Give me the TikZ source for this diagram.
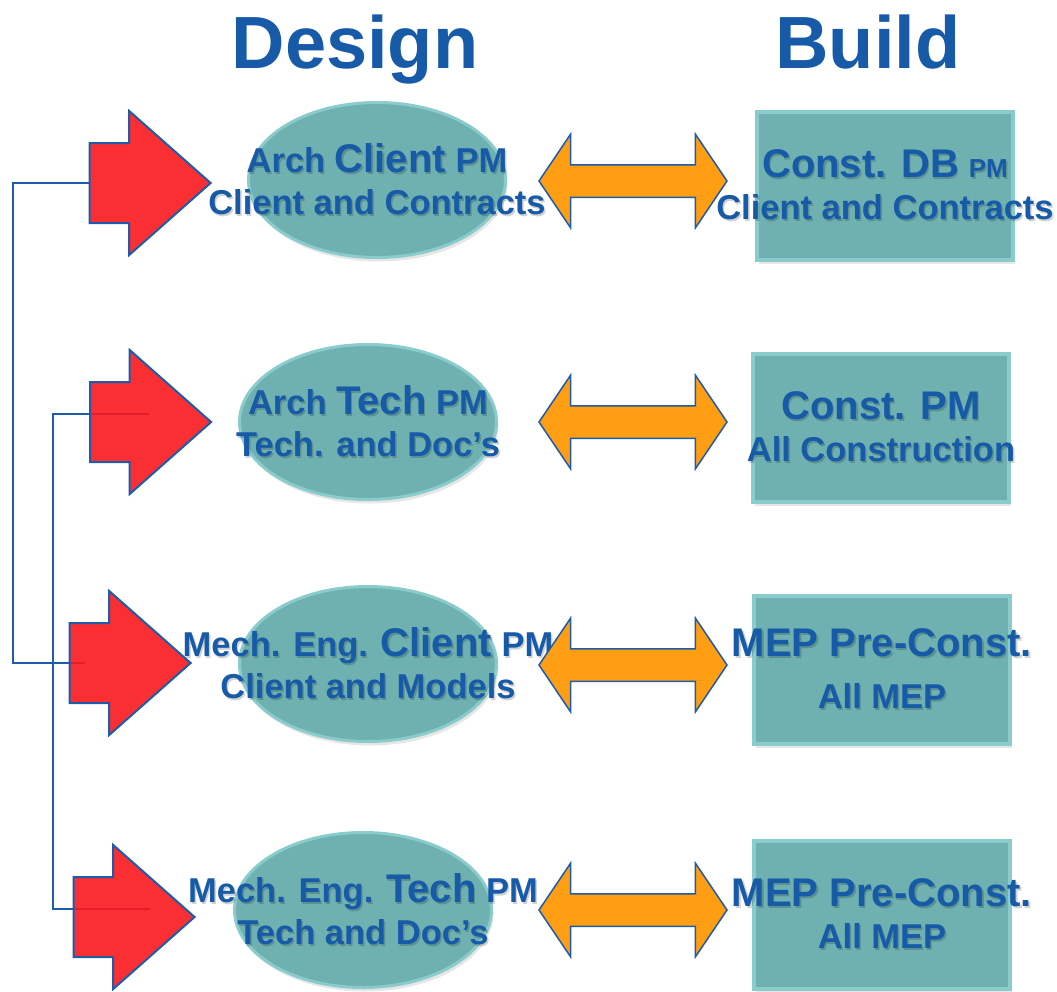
\documentclass[tikz,border=0pt]{standalone}
\usepackage{fontspec}
\setmainfont{Liberation Sans}
\usetikzlibrary{shapes.geometric,shapes.arrows,shadows}

\definecolor{pmblue}{RGB}{22,90,168}
\definecolor{pmline}{RGB}{28,92,170}
\definecolor{pmteal}{RGB}{111,177,176}
\definecolor{pmrim}{RGB}{138,204,204}
\definecolor{pmred}{RGB}{248,24,30}
\definecolor{pmorange}{RGB}{255,158,18}

\pgfdeclarelayer{background}
\pgfsetlayers{background,main}

\newcommand{\lrg}[1]{{\fontsize{40}{42}\selectfont #1}}
\newcommand{\sml}[1]{{\fontsize{26}{42}\selectfont #1}}
\newcommand{\shd}[1]{\leavevmode\rlap{\kern1.5pt\raisebox{-2pt}{\pgfsetfillopacity{0.18}\color{black}#1\pgfsetfillopacity{1}}}#1}

\begin{document}
\begin{tikzpicture}[x=1pt,y=-1pt]
\tikzstyle{title}=[text=pmblue,font=\bfseries\fontsize{74}{74}\selectfont,anchor=base,inner sep=0pt]
\tikzstyle{roletext}=[text=pmblue,font=\bfseries\fontsize{34.5}{42}\selectfont,align=center,inner sep=0pt]
\tikzstyle{design}=[ellipse,fill=pmteal,draw=pmrim,line width=3pt,minimum width=257pt,minimum height=155pt,inner sep=0pt,
                    drop shadow={opacity=0.2,shadow xshift=2pt,shadow yshift=-4pt}]
\tikzstyle{build}=[rectangle,fill=pmteal,draw=pmrim,line width=4pt,minimum width=256pt,minimum height=148pt,inner sep=0pt,
                   drop shadow={opacity=0.2,shadow xshift=2pt,shadow yshift=-4pt}]
\tikzstyle{push}=[single arrow,fill=pmred,fill opacity=0.9,draw=pmline,line width=2pt,inner xsep=0pt,inner ysep=39pt,
                  minimum height=121pt,single arrow head extend=32pt,single arrow tip angle=83]
\tikzstyle{link}=[double arrow,fill=pmorange,draw=pmline,line width=1.5pt,inner xsep=0pt,inner ysep=15.5pt,
                  minimum height=188pt,double arrow head extend=30.5pt,double arrow tip angle=112]
\tikzstyle{feed}=[draw=pmline,line width=2pt]

\useasboundingbox (0,0) rectangle (1057,991);

% headings
\node[title] (design) at (355,68) {Design};
\node[title] (build) at (868,68) {Build};

% design side
\node[design,label={[roletext]center:{\shd{Arch \lrg{Client} PM}\\\shd{Client and Contracts}}}] (e1) at (377,180) {};
\node[design,label={[roletext]center:{\shd{Arch \lrg{Tech} PM}\\\shd{Tech. and Doc’s}}}] (e2) at (368,422) {};
\node[design,label={[roletext]center:{\shd{Mech. Eng. \lrg{Client} PM}\\\shd{Client and Models}}}] (e3) at (368,664) {};
\node[design,label={[roletext]center:{\shd{Mech. Eng. \lrg{Tech} PM}\\\shd{Tech and Doc’s}}}] (e4) at (363,910) {};

% build side
\node[build,label={[roletext]center:{\shd{\lrg{Const. DB} \sml{PM}}\\\shd{Client and Contracts}}}] (b1) at (885,186) {};
\node[build,label={[roletext]center:{\shd{\lrg{Const. PM}}\\\shd{All Construction}}}] (b2) at (881,428) {};
\node[build,label={[roletext]center:{\shd{\lrg{MEP Pre-Const.}}\\[10pt]\shd{All MEP}}}] (b3) at (882,670) {};
\node[build,label={[roletext]center:{\shd{\lrg{MEP Pre-Const.}}\\\shd{All MEP}}}] (b4) at (882,915) {};

% two-way links
\node[link] (o1) at (633,181) {};
\node[link] (o2) at (633,422) {};
\node[link] (o3) at (633,665) {};
\node[link] (o4) at (633,910) {};

% red arrows
\node[push] (r1) at (127.5,183) {};
\node[push] (r2) at (128,422) {};
\node[push] (r3) at (107.5,663) {};
\node[push] (r4) at (111.5,917) {};

% feed lines
\coordinate (k1) at (13,663);
\coordinate (k3) at (85,663);
\coordinate (k2) at (149,414);
\coordinate (j2) at (53,909);
\coordinate (k4) at (150,909);
\begin{pgfonlayer}{background}
\draw[feed] (r1.tail) -| (k1) -- (k3);
\draw[feed] (k2) -| (j2) -- (k4);
\end{pgfonlayer}

\end{tikzpicture}
\end{document}
